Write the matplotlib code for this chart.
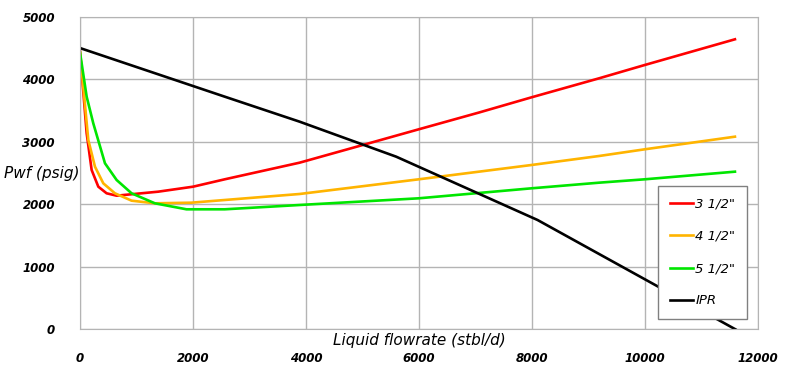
import matplotlib
matplotlib.use("Agg")
import matplotlib.pyplot as plt

# Tubing performance curves
q_35 = [0, 118, 206, 324, 471, 648, 1384, 2002, 2562, 3887, 5006, 5996, 7068, 7993, 9188, 9996, 11592]
p_35 = [4450, 3136, 2549, 2282, 2176, 2138, 2202, 2282, 2400, 2666, 2949, 3200, 3470, 3712, 4016, 4229, 4640]

q_45 = [0, 147, 265, 412, 618, 913, 1325, 1973, 2562, 3887, 5996, 7993, 9188, 9996, 11592]
p_45 = [4430, 3029, 2602, 2336, 2176, 2058, 2016, 2026, 2069, 2165, 2400, 2629, 2773, 2880, 3082]

q_55 = [0, 118, 235, 442, 648, 913, 1325, 1885, 2562, 3887, 5996, 7993, 9188, 9996, 11592]
p_55 = [4430, 3722, 3296, 2656, 2389, 2176, 2016, 1920, 1920, 1989, 2096, 2256, 2346, 2400, 2522]

# Inflow performance relationship
q_ipr = [0, 2562, 3887, 5596, 8098, 11600]
p_ipr = [4500, 3722, 3322, 2762, 1749, 0]

xticks = [0, 2000, 4000, 6000, 8000, 10000, 12000]
yticks = [0, 1000, 2000, 3000, 4000, 5000]

fig = plt.figure(figsize=(8, 3.8), dpi=100)
ax = fig.add_axes([0.1, 0.1334, 0.8475, 0.8224])

lw = 1.9
ax.plot(q_35, p_35, color='#ff0000', lw=lw, label='3 1/2"')
ax.plot(q_45, p_45, color='#ffb400', lw=lw, label='4 1/2"')
ax.plot(q_55, p_55, color='#00e600', lw=lw, label='5 1/2"')
ax.plot(q_ipr, p_ipr, color='black', lw=lw, label='IPR')

ax.set_xlim(0, 12000)
ax.set_ylim(0, 5000)
ax.set_xticks(xticks)
ax.set_yticks(yticks)
ax.tick_params(length=0, labelsize=8.5)
ax.tick_params(axis='x', pad=16)
ax.tick_params(axis='y', pad=18)
for lab in ax.get_xticklabels() + ax.get_yticklabels():
    lab.set_fontstyle('italic')
    lab.set_fontweight('bold')

ax.grid(True, color='#b4b4b4', lw=1)
for sp in ax.spines.values():
    sp.set_color('#b4b4b4')

ax.set_xlabel('Liquid flowrate (stbl/d)', fontsize=11, fontstyle='italic', va='center')
ax.xaxis.set_label_coords(0.5, -0.037)
ax.set_ylabel('Pwf (psig)', fontsize=11, fontstyle='italic', rotation=0, ha='left', va='center')
ax.yaxis.set_label_coords(-0.112, 0.5)

leg = ax.legend(loc='upper right', bbox_to_anchor=(0.984, 0.4586), borderaxespad=0,
                fancybox=False, edgecolor='#808080', framealpha=1,
                prop={'style': 'italic', 'size': 9.5}, handlelength=1.8,
                handletextpad=0.15, labelspacing=1.45, borderpad=0.9)
leg.get_frame().set_linewidth(1)

fig.savefig('out.png', dpi=100)
